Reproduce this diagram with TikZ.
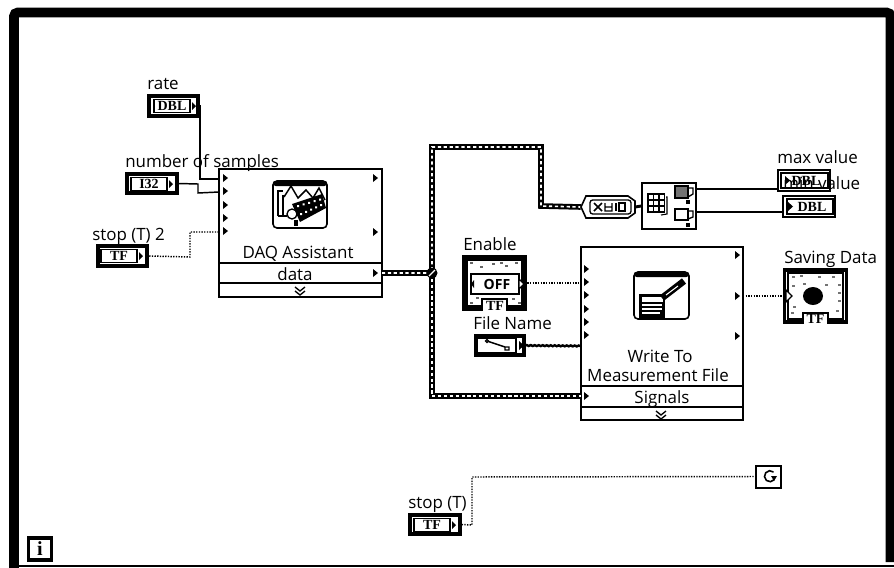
\documentclass[tikz,border=0pt]{standalone}
\usepackage{fontspec}
\setmainfont{Open Sans}
\newfontfamily\glyphfont{Liberation Serif}
\usetikzlibrary{decorations.pathmorphing}
\tikzset{
  lab/.style={anchor=base west,inner sep=0pt,font=\fontsize{12.7}{14}\selectfont},
  labc/.style={anchor=base,inner sep=0pt,font=\fontsize{12.7}{14}\selectfont},
  ctrlbox/.style={draw=black,line width=3pt,fill=white,minimum width=37pt,minimum height=14.5pt,inner sep=0pt,anchor=center},
  indbox/.style={draw=black,line width=1.4pt,fill=white,minimum width=39pt,minimum height=16pt,inner sep=0pt,anchor=center},
  inner/.style={draw=black,line width=1pt,fill=white},
  tag/.style={inner sep=0pt,font=\glyphfont\bfseries\fontsize{10.5}{11}\selectfont},
  vi/.style={draw=black,line width=1.3pt,fill=white},
  sep/.style={draw=black,line width=1.3pt},
  wirethin/.style={draw=black,line width=1.1pt},
  wirebool/.style={draw=black,line width=1.1pt,dash pattern=on 1pt off 1pt},
  wirepath/.style={draw=black,line width=1.8pt},
  wirebig/.style={draw=black,line width=4.2pt,line join=miter},
  wirebigin/.style={draw=white,line width=1.2pt,dash pattern=on 2.4pt off 2pt},
  tip/.style={fill=black},
}
\newcommand{\tipat}[2]{\fill[tip] (#1,#2-4)--(#1+5,#2)--(#1,#2+4)--cycle;}
\begin{document}
\begin{tikzpicture}[x=0.75pt,y=-0.75pt]
\useasboundingbox (0,0) rectangle (894,568);
\fill[white] (0,0) rectangle (894,568);
% while-loop frame
\draw[black,line width=7.4pt,rounded corners=3pt,line cap=butt] (14,568)--(14,12.5)--(890.5,12.5)--(890.5,562);
\draw[black,line width=1pt] (14,566)--(894,566);

% ---------- nodes (boxes)
\node[ctrlbox] (rate) at (173.5,106) {};
\node[ctrlbox] (nsamp) at (152,183.5) {};
\node[ctrlbox] (stop2) at (122.5,256) {};
\node[ctrlbox] (stopT) at (435,524.5) {};
\node[ctrlbox,minimum width=36pt] (fname) at (499.5,345.5) {};
\node[vi,minimum width=122pt,minimum height=96pt,inner sep=0pt] (daq) at (300.5,233) {};
\node[vi,minimum width=121.5pt,minimum height=130pt,inner sep=0pt] (wmf) at (662,333.5) {};
\node[vi,minimum width=40.5pt,minimum height=35pt,inner sep=0pt] (stats) at (669,206) {};
\node[draw=black,line width=1.5pt,fill=white,minimum width=19pt,minimum height=16.5pt,inner sep=0pt] (loopc) at (768.5,476.5) {};
\node[draw=black,line width=2.6pt,fill=white,minimum width=17pt,minimum height=16.5pt,inner sep=0pt,font=\glyphfont\bfseries\fontsize{15}{15}\selectfont] (iter) at (40,549) {i};
\node[draw=black,line width=3pt,fill=white,minimum width=46pt,minimum height=39pt,inner sep=0pt] (enable) at (494.5,283) {};
\node[draw=black,line width=2.4pt,fill=white,minimum width=46pt,minimum height=39pt,inner sep=0pt] (saving) at (815.5,296) {};
\node[indbox] (maxv) at (804,180.5) {};
\node[indbox] (minv) at (809,206.5) {};
\node[inner sep=0pt,minimum width=40.5pt,minimum height=16pt] (conv) at (608,207) {};

% inner frames of the two large front-panel terminals
\draw[black,line width=.9pt] (467,260) rectangle (522,306);
\draw[black,line width=.9pt] (788,273) rectangle (843,319);

% DAQ divisions
\draw[sep] (219,263)--(382,263) (219,283)--(382,283);
% Write divisions
\draw[sep] (581,386)--(743,386) (581,407)--(743,407);

% ---------- terminals
\coordinate (d1) at (219,179);
\coordinate (d2) at (219,192);
\coordinate (d5) at (219,232);
\coordinate (ddata) at (382,273);
\coordinate (junc) at (432,273);
\coordinate (wsig) at (581,396);
\coordinate (wen) at (581,283);
\coordinate (wfn) at (581,346);
\coordinate (wout) at (743,296);

% ---------- wires
\draw[wirethin] (rate.east) -| (200,179) -- (d1);
\draw[wirethin] (nsamp.east) -- (198,184) -- (198,193) -- (d2);
\draw[wirebool] (stop2.east) -- (190,257) -- (190,232) -- (d5);
\draw[wirebool] (stopT.east) -- (472,525) -- (472,477) -- (loopc.west);
\draw[wirebool] (enable.east) -- (wen);
\draw[wirebool] (wout) -- (saving.west);
\draw[wirepath,decorate,decoration={snake,amplitude=0.35pt,segment length=3pt}] (fname.east) -- (wfn);
\draw[wirethin] (stats.east |- 0,189) -- (maxv.west |- 0,189);
\draw[wirethin] (stats.east |- 0,212) -- (minv.west |- 0,212);

% dynamic data wire
\draw[wirebig] (ddata) -- (junc) -- (432,147) -- (541,147) -- (541,206) -- (conv.west);
\draw[wirebig] (junc) -- (432,396) -- (wsig);
\draw[wirebigin] (ddata) -- (junc) -- (432,147) -- (541,147) -- (541,206) -- (conv.west);
\draw[wirebigin] (junc) -- (432,396) -- (wsig);
\draw[black,line width=2.2pt] (conv.east) -- (stats.west);

% junction
\fill[black] (junc) circle (5.5);
\draw[white,line width=1pt] (429,276)--(435,270);

% conversion node outline (hexagonal ends)
\fill[white,draw=black,line width=1.2pt] (581,207)--(586,196)--(628,196)--(635,201)--(635,213)--(628,218)--(586,218)--cycle;
\draw[black,line width=1pt,rounded corners=2pt] (590,200) rectangle (631,214);
\draw[black,line width=1.1pt] (594,203)--(602,211) (594,211)--(602,203) (605,203)--(605,211)--(612,211)--(612,203) (605,207)--(612,207);
\draw[black,line width=1.1pt] (616,203)--(616,211) (619,203) rectangle (625,211);

% stats icon
\foreach \i in {0,1,2}{\foreach \j in {0,1,2}{\draw[black,line width=.9pt,fill=white] (648+\i*5.5,194+\j*6) rectangle ++(5.5,6);}}
\draw[black,line width=.8pt] (666,197)--(667,197)--(667,214)--(661,215);
\fill[black] (686,200) rectangle (690,204);
\fill[black] (686,223) rectangle (690,227);
\draw[black,line width=1pt,fill=black!55] (675,186) rectangle (688,198);
\draw[black,line width=1pt,fill=white] (675,209) rectangle (688,220);
\draw[black,line width=1pt] (688,188) -- (693,188) -- (693,194) -- (688,197);
\draw[black,line width=1pt] (688,211) -- (693,211) -- (693,217) -- (688,219);

% ---------- control contents
\foreach \n/\cx/\cy/\t in {rate/173/106/DBL,nsamp/150/184/I32,stop2/120/256/TF,stopT/433/525/TF}{
  \draw[inner] (\cx-19,\cy-6.5) rectangle (\cx+17,\cy+6.5);
  \node[tag] at (\cx-1,\cy) {\t};
  \fill[black] (\cx+19,\cy-4)--(\cx+23,\cy)--(\cx+19,\cy+4)--cycle;
}
% file name control
\draw[inner] (477,338) rectangle (516,353);
\draw[black,line width=1.1pt] (487,341)--(505,347);
\draw[black,line width=1pt,fill=white] (487,341) circle (1.5) (505,347) rectangle (509,350);
\fill[black] (519,341)--(524,345.5)--(519,350)--cycle;

% max / min indicators
\draw[line width=.9pt] (781,173) rectangle (828,188);
\fill[black] (785,176)--(790,180.5)--(785,185)--cycle;
\node[tag] at (806,180.5) {DBL};
\draw[line width=.9pt] (787,199) rectangle (833,214);
\fill[black] (788,202)--(793,206.5)--(788,211)--cycle;
\node[tag] at (812,206.5) {DBL};

% enable button
\draw[inner] (471,274) rectangle (519,294);
\foreach \px/\py in {470/262,480/266,492/263,505/265,515/262,476/297,512/298,470/302,518/302,500/262}{\fill[black!60] (\px,\py) rectangle ++(3,2);}
\node[inner sep=0pt,font=\fontsize{10.5}{12}\selectfont\bfseries] at (497,284) {OFF};
\fill[black] (474,280)--(471,284)--(474,288)--cycle;
\fill[white,draw=black,line width=.9pt] (519,279)--(524,284)--(519,289)--cycle;
\draw[black,line width=1.2pt,fill=white] (482,311)--(482,299)--(507,299)--(507,311);
\node[tag] at (495,305.5) {TF};

% saving data LED
\foreach \px/\py in {792/276,800/275,818/276,832/276,838/284,792/285,838/300,793/306,836/310,825/284,803/283,791/312,838/292}{\fill[black!55] (\px,\py) rectangle ++(3,2);}
\fill[black] (813,296) ellipse (10 and 9);
\fill[white,draw=black,line width=.9pt] (786,290)--(792,296)--(786,302)--cycle;
\draw[black,line width=1.2pt,fill=white] (803,324)--(803,313)--(828,313)--(828,324);
\node[tag] at (815.5,319) {TF};

% loop condition icon
\draw[black,line width=1.2pt] (773.5,472) arc (-50:-320:5.5);
\fill[black] (771,476)--(777,476)--(774,481)--cycle;

% DAQ icon
\draw[black,line width=1.2pt,fill=white,rounded corners=3pt] (273,181) rectangle (327,228);
\fill[black,rounded corners=2pt] (273,181) rectangle (327,186);
\draw[black,line width=1pt] (278,216)--(278,191)--(283,191) (283,216)--(283,195);
\draw[black,line width=1.1pt] (284,197)--(291,186)--(298,198)--(306,190)--(313,198)--(319,188)--(325,200);
\fill[black] (292,204)--(322,194)--(326,208)--(300,222)--cycle;
\foreach \q in {0,1,2,3,4}{\fill[white] (297+\q*5.5,205-\q*1.6) rectangle ++(2,2) (300+\q*5,213-\q*2.2) rectangle ++(2,2);}
\draw[black,line width=1pt,fill=white] (292,214) circle (5);
\draw[black,line width=1pt] (278,216)--(287,216);
\fill[black] (294,220) rectangle (298,226);

% Write icon
\draw[black,line width=1.2pt,fill=white,rounded corners=3pt] (634,272) rectangle (689,319);
\fill[black,rounded corners=2pt] (634,272) rectangle (689,277);
\fill[black] (639,294) rectangle (665,318);
\fill[white] (642,297) rectangle (663,302);
\draw[white,line width=.8pt] (642,305)--(662,305) (642,309)--(662,309) (642,313)--(660,313);
\draw[black,line width=5pt] (662,298)--(684,281);
\draw[white,line width=.8pt] (666,295)--(678,286);

% terminal tips
\foreach \yy in {178,191,205,218,231}{\tipat{223}{\yy}}
\foreach \yy in {178,232,273}{\tipat{373}{\yy}}
\foreach \yy in {269,282,295,309,322,335,396}{\tipat{584}{\yy}}
\foreach \yy in {255,296,336}{\tipat{735}{\yy}}
% chevrons
\foreach \cc/\yy in {300/287,661/411}{
  \draw[black,line width=1pt] (\cc-5,\yy)--(\cc,\yy+4)--(\cc+5,\yy) (\cc-5,\yy+4)--(\cc,\yy+8)--(\cc+5,\yy+4);
}

% ---------- labels
\node[lab] (lrate) at (147,89) {rate};
\node[lab] (lnsamp) at (125,167) {number of samples};
\node[lab] (lstop2) at (92,240) {stop (T) 2};
\node[labc] (ldaq) at (298,258) {DAQ Assistant};
\node[labc] (ldata) at (295,280) {data};
\node[lab] (lenable) at (463,250) {Enable};
\node[lab] (lfname) at (473,329) {File Name};
\node[lab] (lmax) at (777,163) {max value};
\node[lab] (lmin) at (783,189) {min value};
\node[lab] (lsave) at (784,263) {Saving Data};
\node[labc] (lw1) at (660,362) {Write To};
\node[labc] (lw2) at (658,381) {Measurement File};
\node[labc] (lw3) at (662,403) {Signals};
\node[lab] (lstop) at (408,508) {stop (T)};
\end{tikzpicture}
\end{document}
